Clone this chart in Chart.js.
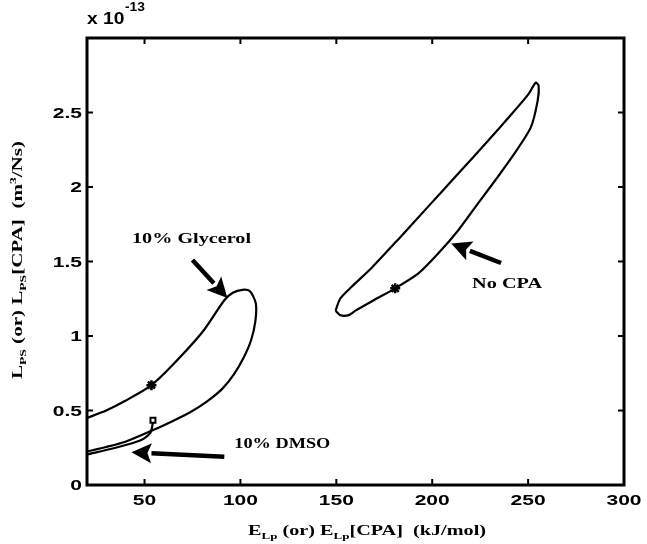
<!DOCTYPE html>
<html>
<head>
<meta charset="utf-8">
<script src="https://cdn.jsdelivr.net/npm/chart.js@4.4.1/dist/chart.umd.min.js"></script>
<style>
  html, body { margin: 0; padding: 0; background: #fff; }
  #wrap { width: 647px; height: 544px; }
</style>
</head>
<body>
<div id="wrap"><canvas id="chart"></canvas></div>
<script>
// y values in units of 1e-13 m^3/Ns, x in kJ/mol
const glycerolX = [20, 30, 40, 53.6, 65, 80.4, 91.6, 96, 101, 105, 108, 107.8, 105.5, 101.5, 96.5, 90.5, 83, 74, 64, 53, 40, 30, 20];
const glycerolY = [0.45, 0.50, 0.565, 0.67, 0.81, 1.03, 1.24, 1.29, 1.31, 1.30, 1.22, 1.10, 0.97, 0.85, 0.74, 0.645, 0.565, 0.49, 0.425, 0.36, 0.29, 0.255, 0.225];
const dmsoX = [20, 35, 48, 53, 54.4];
const dmsoY = [0.205, 0.25, 0.30, 0.35, 0.42];
const noCpaX = [149.6, 152, 158, 168.6, 182.4, 198, 213.6, 229.1, 242.1, 250, 254, 255.5, 255, 251.4, 242.1, 234.3, 223.9, 213.6, 203.2, 192.8, 180.7, 169.5, 160, 156.5, 152, 149.6];
const noCpaY = [1.17, 1.25, 1.33, 1.46, 1.65, 1.87, 2.09, 2.31, 2.50, 2.62, 2.70, 2.68, 2.58, 2.40, 2.21, 2.07, 1.89, 1.71, 1.555, 1.42, 1.32, 1.24, 1.17, 1.14, 1.14, 1.17];

const starX = [53.6, 180.7];
const starY = [0.67, 1.32];
const dmsoMarkX = [54.4];
const dmsoMarkY = [0.435];

const xTicks = [50, 100, 150, 200, 250, 300];
const yTicks = [0, 0.5, 1, 1.5, 2, 2.5];

// curve labels and arrows (tail -> head), in data units
const noteText = ["10% Glycerol", "10% DMSO", "No CPA"];
const noteX = [74.5, 96.8, 220.8];
const noteY = [1.66, 0.285, 1.355];
const arrowTailX = [75, 91.6, 235.9];
const arrowTailY = [1.51, 0.19, 1.49];
const arrowHeadX = [93.2, 43.2, 209.9];
const arrowHeadY = [1.255, 0.22, 1.62];

const noteAlign = ["center", "left", "left"];
const noteWidth = [119, 96, 70];

function pts(xs, ys) {
  return xs.map((x, i) => ({ x: x, y: ys[i] }));
}

// draws text parts [text, kind] (kind "", "sub", "sup") stretched to a given width
function drawRich(ctx, parts, x, y, size, width, align) {
  const fontFor = (p) => "bold " + (p[1] ? Math.round(size * 0.65) : size) + "px 'Liberation Serif', serif";
  let total = 0;
  parts.forEach(p => { ctx.font = fontFor(p); total += ctx.measureText(p[0]).width; });
  const sx = width / total;
  ctx.save();
  ctx.translate(x, y);
  ctx.scale(sx, 1);
  ctx.textAlign = "left";
  ctx.textBaseline = "alphabetic";
  let cx = align === "left" ? 0 : -total / 2;
  parts.forEach(p => {
    ctx.font = fontFor(p);
    const dy = p[1] === "sub" ? size * 0.3 : (p[1] === "sup" ? -size * 0.45 : 0);
    ctx.fillText(p[0], cx, dy);
    cx += ctx.measureText(p[0]).width;
  });
  ctx.restore();
}

function wideText(ctx, text, x, y, font, sx, align, baseline) {
  ctx.save();
  ctx.translate(x, y);
  ctx.scale(sx, 1);
  ctx.font = font;
  ctx.textAlign = align;
  ctx.textBaseline = baseline;
  ctx.fillText(text, 0, 0);
  ctx.restore();
}

function arrow(ctx, x1, y1, x2, y2) {
  const a = Math.atan2(y2 - y1, x2 - x1);
  const len = 20, half = 10;
  const bx = x2 - len * Math.cos(a), by = y2 - len * Math.sin(a);
  ctx.lineWidth = 4.5;
  ctx.beginPath();
  ctx.moveTo(x1, y1);
  ctx.lineTo(bx, by);
  ctx.stroke();
  ctx.beginPath();
  ctx.moveTo(x2, y2);
  ctx.lineTo(bx + half * Math.sin(a), by - half * Math.cos(a));
  ctx.lineTo(bx + 4 * Math.cos(a), by + 4 * Math.sin(a));
  ctx.lineTo(bx - half * Math.sin(a), by + half * Math.cos(a));
  ctx.closePath();
  ctx.fill();
}

const decor = {
  id: "decor",
  afterDraw(chart) {
    const ctx = chart.ctx;
    const a = chart.chartArea;
    const xs = chart.scales.x, ys = chart.scales.y;
    const tickFont = "bold 15px 'Liberation Sans', sans-serif";
    ctx.save();
    ctx.strokeStyle = "#000";
    ctx.fillStyle = "#000";

    // box
    ctx.lineWidth = 3;
    ctx.strokeRect(a.left, a.top, a.right - a.left, a.bottom - a.top);

    // inward ticks on all four sides, plus labels
    ctx.lineWidth = 2;
    xTicks.forEach(v => {
      const px = xs.getPixelForValue(v);
      ctx.beginPath();
      ctx.moveTo(px, a.bottom); ctx.lineTo(px, a.bottom - 6);
      ctx.moveTo(px, a.top); ctx.lineTo(px, a.top + 6);
      ctx.stroke();
      wideText(ctx, String(v), px, a.bottom + 8, tickFont, 1.4, "center", "top");
    });
    yTicks.forEach(v => {
      const py = ys.getPixelForValue(v);
      ctx.beginPath();
      ctx.moveTo(a.left, py); ctx.lineTo(a.left + 6, py);
      ctx.moveTo(a.right, py); ctx.lineTo(a.right - 6, py);
      ctx.stroke();
      wideText(ctx, String(v), a.left - 5, py + 1, tickFont, 1.4, "right", "middle");
    });

    // arrows and labels
    noteText.forEach((t, i) => {
      arrow(ctx, xs.getPixelForValue(arrowTailX[i]), ys.getPixelForValue(arrowTailY[i]),
        xs.getPixelForValue(arrowHeadX[i]), ys.getPixelForValue(arrowHeadY[i]));
      drawRich(ctx, [[t, ""]], xs.getPixelForValue(noteX[i]), ys.getPixelForValue(noteY[i]) + 5,
        14, noteWidth[i], noteAlign[i]);
    });

    // exponent
    wideText(ctx, "x 10", a.left, 24, "bold 16px 'Liberation Sans', sans-serif", 1.2, "left", "alphabetic");
    wideText(ctx, "-13", a.left + 38, 11, "bold 12px 'Liberation Sans', sans-serif", 1.15, "left", "alphabetic");

    // axis titles
    drawRich(ctx, [["E", ""], ["Lp", "sub"], [" (or) E", ""], ["Lp", "sub"], ["[CPA]  (kJ/mol)", ""]],
      367, 535, 14, 238, "center");
    ctx.translate(22, 260);
    ctx.rotate(-Math.PI / 2);
    drawRich(ctx, [["L", ""], ["PS", "sub"], [" (or) L", ""], ["PS", "sub"], ["[CPA]  (m", ""], ["3", "sup"], ["/Ns)", ""]],
      0, 0, 14, 238, "center");
    ctx.restore();
  }
};

const curve = (data) => ({
  type: "line",
  data: data,
  showLine: true,
  borderColor: "#000",
  borderWidth: 2.2,
  pointRadius: 0,
  tension: 0.25,
  fill: false
});

new Chart(document.getElementById("chart"), {
  type: "scatter",
  data: {
    datasets: [
      curve(pts(glycerolX, glycerolY)),
      curve(pts(dmsoX, dmsoY)),
      curve(pts(noCpaX, noCpaY)),
      {
        data: pts(starX, starY),
        pointStyle: "star",
        pointRadius: 5,
        borderColor: "#000",
        borderWidth: 2.5,
        backgroundColor: "#000"
      },
      {
        data: pts(dmsoMarkX, dmsoMarkY),
        pointStyle: "rect",
        pointRadius: 3.5,
        borderColor: "#000",
        borderWidth: 2,
        backgroundColor: "#fff"
      }
    ]
  },
  plugins: [decor],
  options: {
    responsive: true,
    maintainAspectRatio: false,
    animation: false,
    layout: { padding: { left: 0, top: 38, right: 23, bottom: 0 } },
    plugins: {
      legend: { display: false },
      tooltip: { enabled: false }
    },
    scales: {
      x: {
        type: "linear",
        min: 20,
        max: 300,
        afterBuildTicks: (s) => { s.ticks = xTicks.map(v => ({ value: v })); },
        afterFit: (s) => { s.height = 59; },
        grid: { display: false, drawTicks: false },
        border: { display: false },
        ticks: { display: false }
      },
      y: {
        type: "linear",
        min: 0,
        max: 3,
        afterBuildTicks: (s) => { s.ticks = yTicks.map(v => ({ value: v })); },
        afterFit: (s) => { s.width = 87; },
        grid: { display: false, drawTicks: false },
        border: { display: false },
        ticks: { display: false }
      }
    }
  }
});
</script>
</body>
</html>
